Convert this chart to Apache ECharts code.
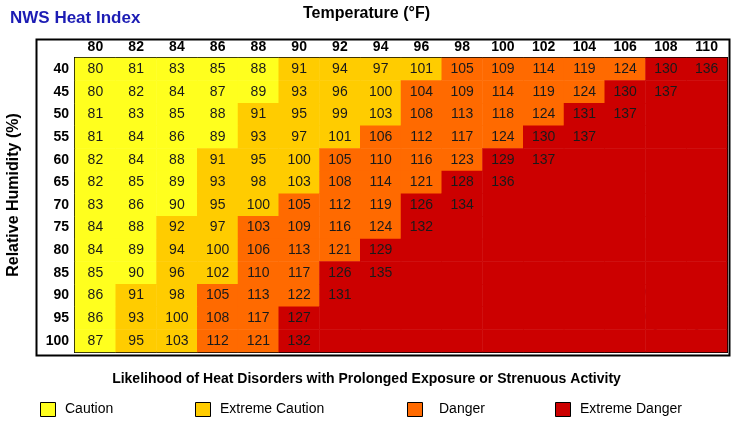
<!DOCTYPE html>
<html lang="en">
<head>
<meta charset="UTF-8">
<title>NWS Heat Index</title>
<style>
    html, body { margin: 0; padding: 0; background: #fff; }
    #chart { width: 733px; height: 431px; }
</style>
<script src="https://cdn.jsdelivr.net/npm/echarts@6/dist/echarts.min.js"></script>
</head>
<body>
<div id="chart"></div>
<script>
// temperatures (columns) and relative humidity (rows)
var temps = ['80','82','84','86','88','90','92','94','96','98','100','102','104','106','108','110'];
var humidity = ['40','45','50','55','60','65','70','75','80','85','90','95','100'];

var heatIndex = [
    [80,81,83,85,88,91,94,97,101,105,109,114,119,124,130,136],
    [80,82,84,87,89,93,96,100,104,109,114,119,124,130,137],
    [81,83,85,88,91,95,99,103,108,113,118,124,131,137],
    [81,84,86,89,93,97,101,106,112,117,124,130,137],
    [82,84,88,91,95,100,105,110,116,123,129,137],
    [82,85,89,93,98,103,108,114,121,128,136],
    [83,86,90,95,100,105,112,119,126,134],
    [84,88,92,97,103,109,116,124,132],
    [84,89,94,100,106,113,121,129],
    [85,90,96,102,110,117,126,135],
    [86,91,98,105,113,122,131],
    [86,93,100,108,117,127],
    [87,95,103,112,121,132]
];

// column index where each band starts, per humidity row
var extremeCautionStart = [5,5,4,4,3,3,3,2,2,2,1,1,1];
var dangerStart         = [9,8,8,7,6,6,5,4,4,4,3,3,3];
var extremeDangerStart  = [14,13,12,11,10,9,8,8,7,6,6,5,5];

var bandNames = ['Caution', 'Extreme Caution', 'Danger', 'Extreme Danger'];
var bandColors = ['#ffff1e', '#ffcc00', '#ff6a00', '#cc0000'];

function bandOf(r, c) {
    if (c >= extremeDangerStart[r]) return 3;
    if (c >= dangerStart[r]) return 2;
    if (c >= extremeCautionStart[r]) return 1;
    return 0;
}

var data = [];
for (var r = 0; r < humidity.length; r++) {
    for (var c = 0; c < temps.length; c++) {
        var v = heatIndex[r][c];
        // cells past the table's end are still drawn (extreme danger), just unlabelled
        data.push({
            value: [c, r, v === undefined ? 0 : v],
            itemStyle: { color: bandColors[bandOf(r, c)] },
            label: { show: v !== undefined }
        });
    }
}

var legendX = [40, 195, 407, 555];
var legendGraphics = [];
for (var i = 0; i < bandNames.length; i++) {
    legendGraphics.push({
        type: 'rect', left: legendX[i], top: 402,
        shape: { width: 15, height: 14 },
        style: { fill: bandColors[i], stroke: '#000', lineWidth: 1 }
    });
    legendGraphics.push({
        type: 'text', left: legendX[i] + (i == 2 ? 32 : 25), top: 402,
        style: { text: bandNames[i], font: '14px "Liberation Sans"', fill: '#000' }
    });
}

var chart = echarts.init(document.getElementById('chart'));
chart.setOption({
    animation: false,
    title: {
        text: 'NWS Heat Index', left: 5, top: 5,
        textStyle: { color: '#1c1cb4', fontSize: 17, fontWeight: 'bold', fontFamily: 'Liberation Sans' }
    },
    grid: { left: 75, right: 6, top: 58, bottom: 79, show: true, borderColor: '#000', borderWidth: 2 },
    xAxis: {
        type: 'category', position: 'top', data: temps,
        axisLine: { show: false }, axisTick: { show: false }, splitLine: { show: false },
        axisLabel: { margin: 4, color: '#000', fontWeight: 'bold', fontSize: 14, fontFamily: 'Liberation Sans' }
    },
    yAxis: {
        type: 'category', inverse: true, data: humidity,
        axisLine: { show: false }, axisTick: { show: false }, splitLine: { show: false },
        axisLabel: { margin: 6, color: '#000', fontWeight: 'bold', fontSize: 14, fontFamily: 'Liberation Sans' }
    },
    series: [{
        type: 'heatmap',
        data: data,
        label: { color: '#1a1a1a', fontSize: 14, fontFamily: 'Liberation Sans' },
        emphasis: { disabled: true }
    }],
    graphic: [
        { type: 'rect', left: 34, top: 37, shape: { width: 693, height: 316 }, style: { fill: 'none', stroke: '#000', lineWidth: 2 } },
        { type: 'text', left: 'center', top: 6,
          style: { text: 'Temperature (°F)', font: 'bold 16px "Liberation Sans"', fill: '#000' } },
        { type: 'text', x: 14, y: 195, rotation: Math.PI / 2,
          style: { text: 'Relative Humidity (%)', font: 'bold 16px "Liberation Sans"', fill: '#000', align: 'center', verticalAlign: 'middle' } },
        { type: 'text', left: 'center', top: 372,
          style: { text: 'Likelihood of Heat Disorders with Prolonged Exposure or Strenuous Activity', font: 'bold 14px "Liberation Sans"', fill: '#000' } },
        { type: 'circle', shape: { cx: 676, cy: 304, r: 33 }, style: { fill: '#fff', stroke: '#2a5db0', lineWidth: 2 } },
        { type: 'circle', shape: { cx: 676, cy: 304, r: 24 }, style: { fill: '#1f5bb5' } },
        { type: 'text', left: 664, top: 298, style: { text: 'NOAA', font: 'bold 9px "Liberation Sans"', fill: '#fff' } }
    ].concat(legendGraphics)
});
</script>
</body>
</html>
